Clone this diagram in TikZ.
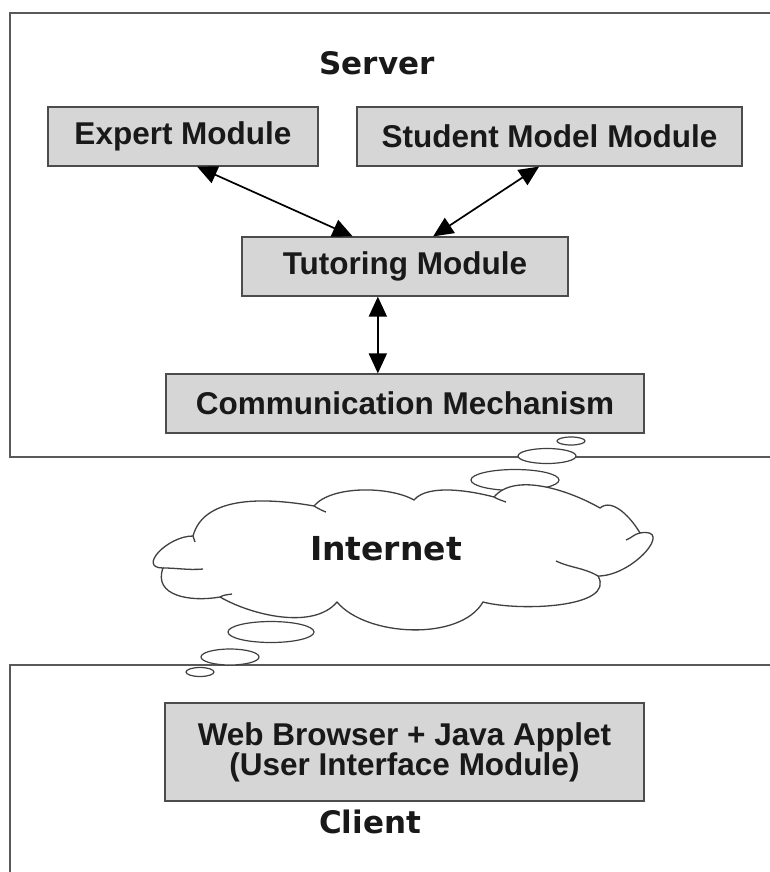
\documentclass[tikz,border=0pt]{standalone}
\usepackage{fontspec}
\setmainfont{Liberation Sans}
\newfontfamily\handfont{DejaVu Sans}
\usetikzlibrary{arrows.meta,calc}

\begin{document}
\begin{tikzpicture}[x=1pt,y=1pt,
  module/.style={draw=black!70, line width=1.2pt, fill=black!16,
    font=\fontsize{31.5}{30}\selectfont\bfseries, text=black!90,
    inner sep=0pt, align=center, minimum height=59pt},
  link/.style={line width=1.7pt,
    {Triangle[length=20pt,width=18pt]}-{Triangle[length=20pt,width=18pt]}},
  frame/.style={draw=black!65, line width=1.1pt},
  bubble/.style={draw=black!75, line width=1.2pt, fill=white},
  cloudline/.style={draw=black!75, line width=1.3pt, fill=white},
  hook/.style={draw=black!75, line width=1.3pt},
  heading/.style={font=\handfont\bfseries\fontsize{31}{31}\selectfont, anchor=base, text=black!90}]
\useasboundingbox (0,0) rectangle (769,-872);
\fill[white] (0,0) rectangle (769,-872);

% server and client areas
\draw[frame] (790,-13) -- (10,-13) -- (10,-457) -- (790,-457);
\draw[frame] (790,-665) -- (10,-665) -- (10,-890);

% server side
\node[heading] (server) at (377,-75) {Server};
\node[module, minimum width=270pt] (expert) at (183,-136.5) {Expert Module};
\node[module, minimum width=385pt] (student) at (549.5,-136.5) {Student Model Module};
\node[module, minimum width=326pt] (tutor) at (405,-266.5) {Tutoring Module};
\node[module, minimum width=478pt] (comm) at (405,-403.5) {Communication Mechanism};

\draw[link] ($(expert.south west)!0.552!(expert.south east)$)
  -- ($(tutor.north west)!0.34!(tutor.north east)$);
\draw[link] ($(student.south west)!0.473!(student.south east)$)
  -- ($(tutor.north west)!0.586!(tutor.north east)$);
\coordinate (tdown) at ($(tutor.south west)!0.417!(tutor.south east)$);
\draw[link] (tdown) -- (tdown |- comm.north);

% thought bubbles leading to and from the cloud
\draw[bubble] (571,-441) ellipse [x radius=14, y radius=4];
\draw[bubble] (547,-456) ellipse [x radius=29, y radius=7.5];
\draw[bubble] (515,-480) ellipse [x radius=44, y radius=10.5];
\draw[bubble] (271,-632) ellipse [x radius=43, y radius=10.5];
\draw[bubble] (230,-657) ellipse [x radius=29, y radius=8];
\draw[bubble] (200,-672) ellipse [x radius=14, y radius=4.5];

% the Internet cloud
\draw[cloudline] (163,-568)
  to[out=180,in=180,looseness=1.5] (193,-536)
  to[out=75,in=170,looseness=0.9] (314,-506)
  to[out=50,in=150,looseness=0.7] (414,-500)
  to[out=50,in=165,looseness=0.7] (494,-497)
  to[out=50,in=150,looseness=0.8] (600,-508)
  to[out=40,in=120,looseness=0.9] (640,-533)
  to[out=10,in=0,looseness=1.5] (598,-576)
  to[out=-60,in=-15,looseness=0.8] (483,-602)
  to[out=-120,in=-50,looseness=0.8] (337,-602)
  to[out=-130,in=-30,looseness=0.8] (220,-597)
  to[out=190,in=250,looseness=1.2] (163,-568) -- cycle;
% inner ends of the puffs
\draw[hook] (163,-568) to[out=0,in=185] (203,-569);
\draw[hook] (193,-536) to[out=-80,in=100] (195,-542);
\draw[hook] (220,-597) to[out=30,in=190] (232,-594);
\draw[hook] (314,-506) to[out=-30,in=160] (326,-512);
\draw[hook] (494,-497) to[out=-30,in=160] (506,-502);
\draw[hook] (598,-576) to[out=150,in=-25] (556,-561);
\draw[hook] (640,-533) to[out=190,in=20] (626,-540);
\node[heading, font=\handfont\bfseries\fontsize{33}{33}\selectfont] (internet) at (386,-560) {Internet};

% client side
\node[module, minimum width=479pt, minimum height=98pt] (web) at (404.5,-752)
  {Web Browser + Java Applet\\(User Interface Module)};
\node[heading] (client) at (370,-833) {Client};
\end{tikzpicture}
\end{document}
